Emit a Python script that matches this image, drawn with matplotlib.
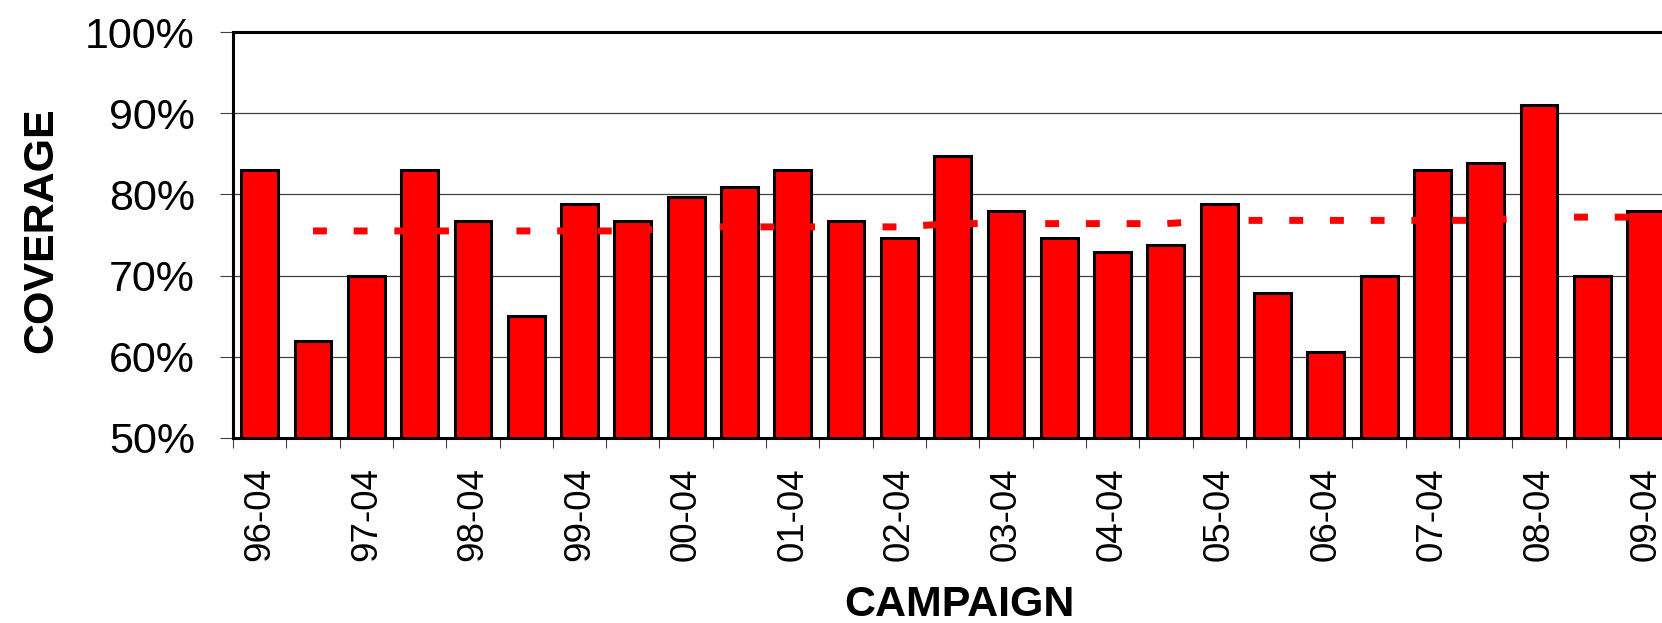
import matplotlib

matplotlib.use("Agg")
import matplotlib.pyplot as plt
from matplotlib.ticker import FixedLocator, FuncFormatter

# Campaign labels (half-year campaigns, April and October)
campaigns = [
    "96-04", "96-10", "97-04", "97-10", "98-04", "98-10", "99-04", "99-10",
    "00-04", "00-10", "01-04", "01-10", "02-04", "02-10", "03-04", "03-10",
    "04-04", "04-10", "05-04", "05-10", "06-04", "06-10", "07-04", "07-10",
    "08-04", "08-10", "09-04",
]

# Coverage per campaign (%)
coverage = [
    83.0, 62.0, 70.0, 83.0, 76.7, 65.0, 78.8, 76.7,
    79.7, 80.9, 83.0, 76.7, 74.6, 84.7, 77.9, 74.6,
    72.9, 73.8, 78.8, 67.8, 60.6, 70.0, 83.0, 83.9,
    91.0, 70.0, 77.9,
]

# Average line (starts at second campaign)
avg_line = [
    None, 75.5, 75.5, 75.5, 75.5, 75.5, 75.5, 75.5,
    76.0, 76.0, 76.0, 76.0, 76.0, 76.4, 76.4, 76.4,
    76.4, 76.4, 76.8, 76.8, 76.8, 76.8, 76.8, 76.8,
    77.2, 77.2, 77.2,
]

plt.rcParams["font.family"] = ["Liberation Sans", "DejaVu Sans"]

fig = plt.figure(figsize=(16.62, 6.23), dpi=100)
ax = fig.add_axes([0.1402, 0.2970, 0.8676, 0.6516])

x = list(range(len(campaigns)))
ax.bar(x, coverage, width=0.69, color="#ff0000", edgecolor="black",
       linewidth=2.2, zorder=2)

line_x = [i for i, v in zip(x, avg_line) if v is not None]
line_y = [v for v in avg_line if v is not None]
ax.plot(line_x, line_y, color="#ff0000", linewidth=5.0,
        dashes=(2.0, 3.86), dash_capstyle="butt", zorder=3)

ax.set_ylim(50, 100)
ax.set_xlim(-0.5, 26.55)

ax.set_yticks([50, 60, 70, 80, 90, 100])
ax.yaxis.set_major_formatter(FuncFormatter(lambda v, p: f"{v:.0f}%"))
ax.tick_params(axis="y", direction="out", length=9.4, width=0.8,
               color="#404040", pad=18, labelsize=31)
ax.grid(axis="y", color="#404040", linewidth=0.9, zorder=1)
ax.set_axisbelow(True)

ax.xaxis.set_major_locator(FixedLocator(x[::2]))
ax.set_xticklabels(campaigns[::2], rotation=90)
ax.xaxis.set_minor_locator(FixedLocator([i - 0.5 for i in range(len(campaigns) + 1)]))
ax.tick_params(axis="x", which="major", length=0, pad=21, labelsize=26.5)
ax.tick_params(axis="x", which="minor", direction="out", length=7.2,
               width=0.8, color="#404040")

for side in ["left", "top", "bottom"]:
    ax.spines[side].set_linewidth(2.2)
    ax.spines[side].set_color("black")
ax.spines["right"].set_visible(False)

ax.set_ylabel("COVERAGE", fontsize=31, fontweight="bold")
ax.yaxis.set_label_coords(-0.1193, 0.512)
ax.set_xlabel("CAMPAIGN", fontsize=31, fontweight="bold")
ax.xaxis.set_label_coords(0.504, -0.362)

fig.savefig("out.png", dpi=100)
